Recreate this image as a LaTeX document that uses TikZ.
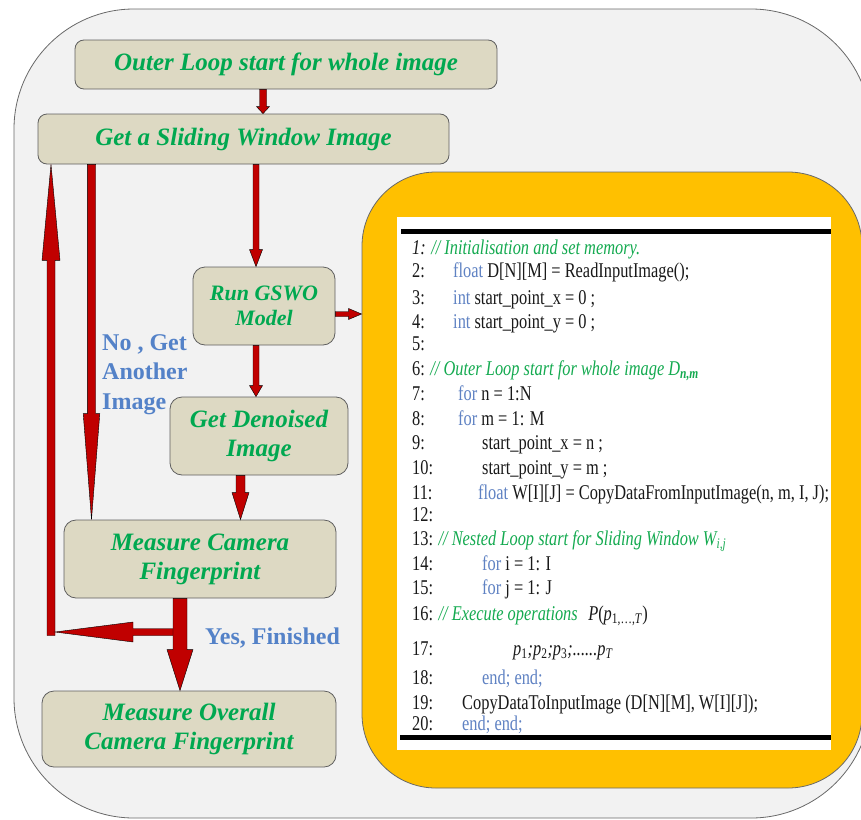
\documentclass[tikz,border=0pt]{standalone}
\usepackage{fontspec}
\setmainfont{Liberation Serif}
\newfontfamily\codeserif{Liberation Serif}[FakeStretch=0.78]
\usetikzlibrary{calc}

\definecolor{bggrey}{RGB}{242,242,242}
\definecolor{edgegrey}{RGB}{105,105,105}
\definecolor{boxfill}{RGB}{221,217,195}
\definecolor{boxedge}{RGB}{95,95,95}
\definecolor{flowgreen}{RGB}{0,168,80}
\definecolor{arrowred}{RGB}{192,0,0}
\definecolor{labelblue}{RGB}{84,130,200}
\definecolor{panelorange}{RGB}{255,192,0}
\definecolor{kwblue}{RGB}{95,130,195}
\definecolor{codegreen}{RGB}{20,170,80}
\definecolor{codeink}{RGB}{25,25,25}

\newcommand\kw[1]{\textcolor{kwblue}{#1}}

% block arrows between two points: #1 start, #2 tip, #3 half shaft width,
% #4 half head width, #5 head length
\newcommand\blkdown[5]{\path[blockarrow] let \p1=(#1), \p2=(#2) in
  (\x1-#3,\y1) -- (\x1-#3,\y2+#5) -- (\x1-#4,\y2+#5) -- (\x1,\y2) --
  (\x1+#4,\y2+#5) -- (\x1+#3,\y2+#5) -- (\x1+#3,\y1) -- cycle;}
\newcommand\blkup[5]{\path[blockarrow] let \p1=(#1), \p2=(#2) in
  (\x1-#3,\y1) -- (\x1-#3,\y2-#5) -- (\x1-#4,\y2-#5) -- (\x1,\y2) --
  (\x1+#4,\y2-#5) -- (\x1+#3,\y2-#5) -- (\x1+#3,\y1) -- cycle;}
\newcommand\blkleft[5]{\path[blockarrow] let \p1=(#1), \p2=(#2) in
  (\x1,\y1-#3) -- (\x2+#5,\y1-#3) -- (\x2+#5,\y1-#4) -- (\x2,\y1) --
  (\x2+#5,\y1+#4) -- (\x2+#5,\y1+#3) -- (\x1,\y1+#3) -- cycle;}
\newcommand\blkright[5]{\path[blockarrow] let \p1=(#1), \p2=(#2) in
  (\x1,\y1-#3) -- (\x2-#5,\y1-#3) -- (\x2-#5,\y1-#4) -- (\x2,\y1) --
  (\x2-#5,\y1+#4) -- (\x2-#5,\y1+#3) -- (\x1,\y1+#3) -- cycle;}

\tikzset{
  flowbox/.style={draw=boxedge, line width=0.8pt, fill=boxfill,
    rounded corners=9pt, align=center, inner sep=0pt, text=flowgreen,
    font=\fontsize{25}{29}\selectfont\bfseries\itshape},
  blockarrow/.style={fill=arrowred, draw=black, line width=0.4pt},
  lbl/.style={text=labelblue, inner sep=0pt,
    font=\fontsize{24}{29.5}\selectfont\bfseries},
  codeline/.style={anchor=base west, inner sep=0pt, text=codeink,
    font=\codeserif\fontsize{21}{24}\selectfont},
}

\begin{document}
\begin{tikzpicture}[x=1pt,y=-1pt]
\useasboundingbox (0,0) rectangle (861,819);

% grey backdrop
\path[draw=edgegrey, line width=0.8pt, fill=bggrey, rounded corners=120pt]
  (14,9) rectangle (871,818);

% orange panel holding the pseudo-code
\node[draw=edgegrey, line width=0.8pt, fill=panelorange, rounded corners=74pt,
  minimum width=500pt, minimum height=616pt, inner sep=0pt] (panel) at (612,480) {};
\fill[white] (397,217) rectangle (831,750);
\fill[black] (401,229) rectangle (831,234);
\fill[black] (400,735) rectangle (831,740);

% flow boxes
\node[flowbox, minimum width=422pt, minimum height=49pt] (outer) at (286,64.5)
  {Outer Loop start for whole image};
\node[flowbox, minimum width=411pt, minimum height=50pt] (getwin) at (243.5,139)
  {Get a Sliding Window Image};
\node[flowbox, minimum width=142pt, minimum height=78pt, rounded corners=12pt,
  font=\fontsize{22}{25}\selectfont\bfseries\itshape] (gswo) at (264,306)
  {Run GSWO\\Model};
\node[flowbox, minimum width=178pt, minimum height=78pt, rounded corners=12pt]
  (denoise) at (259,436) {Get Denoised\\Image};
\node[flowbox, minimum width=272pt, minimum height=78pt, rounded corners=12pt]
  (camera) at (200,559) {Measure Camera\\Fingerprint};
\node[flowbox, minimum width=294pt, minimum height=76pt, rounded corners=12pt]
  (overall) at (189,729) {Measure Overall\\Camera Fingerprint};

% arrow guide positions
\coordinate (ax) at (263,0);
\coordinate (bx) at (256,0);
\coordinate (dx) at (240.5,0);
\coordinate (ey) at (0,314);
\coordinate (fx) at (91.5,0);
\coordinate (gx) at (51,0);
\coordinate (hx) at (180,0);
\coordinate (corner) at (51,635.5);
\coordinate (hstart) at (175,632);
\coordinate (itip) at (55,632);

% connectors
\blkdown{outer.south -| ax}{getwin.north -| ax}{3.5pt}{6.5pt}{7pt}
\blkdown{getwin.south -| bx}{gswo.north -| bx}{3pt}{6.5pt}{17pt}
\blkdown{gswo.south -| bx}{denoise.north -| bx}{3pt}{6.5pt}{11pt}
\blkdown{denoise.south -| dx}{camera.north -| dx}{4.5pt}{8.5pt}{27pt}
\blkright{gswo.east |- ey}{panel.west |- ey}{2.5pt}{5.5pt}{13pt}
\blkdown{getwin.south -| fx}{camera.north -| fx}{4.2pt}{8.3pt}{106pt}
\blkup{corner}{getwin.south -| gx}{4pt}{9pt}{96pt}
\blkleft{hstart}{itip}{3.5pt}{10pt}{78pt}
\blkdown{camera.south -| hx}{overall.north -| hx}{7pt}{13pt}{41pt}

% branch labels
\node[lbl, align=left, anchor=north west] (nolbl) at (102,334)
  {No , Get\\Another\\Image};
\node[lbl, anchor=base west] (yeslbl) at (205,644) {Yes, Finished};

% pseudo-code
\node[codeline] (c1) at (412,254)
  {\itshape 1: \textcolor{codegreen}{// Initialisation and set memory.}};
\node[codeline] (n2) at (412,277) {2:};
\node[codeline] (c2) at (453,277) {\kw{float} D[N][M] = ReadInputImage();};
\node[codeline] (n3) at (412,304) {3:};
\node[codeline] (c3) at (453,304) {\kw{int} start\_point\_x = 0 ;};
\node[codeline] (n4) at (412,328) {4:};
\node[codeline] (c4) at (453,328) {\kw{int} start\_point\_y = 0 ;};
\node[codeline] (n5) at (412,350) {5:};
\node[codeline] (c6) at (412,375)
  {6: \textcolor{codegreen}{\itshape // Outer Loop start for whole image D\textsubscript{\bfseries n,m}}};
\node[codeline] (n7) at (412,400) {7:};
\node[codeline] (c7) at (458,400) {\kw{for} n = 1:N};
\node[codeline] (n8) at (412,425) {8:};
\node[codeline] (c8) at (458,425) {\kw{for} m = 1: M};
\node[codeline] (n9) at (412,449) {9:};
\node[codeline] (c9) at (482,449) {start\_point\_x = n ;};
\node[codeline] (n10) at (412,474) {10:};
\node[codeline] (c10) at (482,474) {start\_point\_y = m ;};
\node[codeline] (n11) at (412,499) {11:};
\node[codeline] (c11) at (478,499) {\kw{float} W[I][J] = CopyDataFromInputImage(n, m, I, J);};
\node[codeline] (n12) at (412,521) {12:};
\node[codeline] (c13) at (412,545)
  {13: \textcolor{codegreen}{\itshape // Nested Loop start for Sliding Window W\textsubscript{i,j}}};
\node[codeline] (n14) at (412,570) {14:};
\node[codeline] (c14) at (482,570) {\kw{for} i = 1: I};
\node[codeline] (n15) at (412,594) {15:};
\node[codeline] (c15) at (482,594) {\kw{for} j = 1: J};
\node[codeline] (c16) at (412,620)
  {16: \textcolor{codegreen}{\itshape // Execute operations}\enspace
   {\itshape P}(\textit{p}\textsubscript{1,\dots,\textit{T}})};
\node[codeline] (n17) at (412,655) {17:};
\node[codeline] (c17) at (513,655)
  {\itshape p\textsubscript{\upshape 1};p\textsubscript{\upshape 2};p\textsubscript{\upshape 3};......p\textsubscript{T}};
\node[codeline] (n18) at (412,684) {18:};
\node[codeline] (c18) at (482,684) {\kw{end; end;}};
\node[codeline] (n19) at (412,709) {19:};
\node[codeline] (c19) at (462,709) {CopyDataToInputImage (D[N][M], W[I][J]);};
\node[codeline] (n20) at (412,730) {20:};
\node[codeline] (c20) at (462,730) {\kw{end; end;}};
\end{tikzpicture}
\end{document}
